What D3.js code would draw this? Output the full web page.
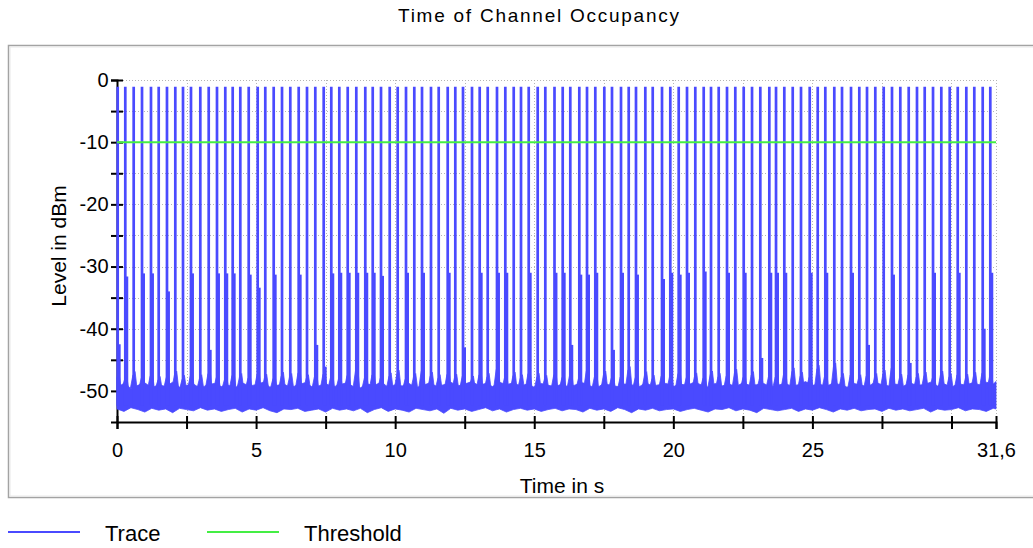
<!DOCTYPE html>
<html>
<head>
<meta charset="utf-8">
<script src="https://cdn.jsdelivr.net/npm/d3@7"></script>
<style>
  html, body { margin: 0; padding: 0; background: #ffffff; }
  svg { display: block; font-family: "Liberation Sans", Arial, sans-serif; }
</style>
</head>
<body>
<svg id="chart" width="1033" height="548"></svg>
<script>
// ---------------- data ----------------
const chartTitle = "Time of Channel Occupancy";
const xAxisTitle = "Time in s";
const yAxisTitle = "Level in dBm";
const seriesNames = ["Trace", "Threshold"];

const xDomain = [0, 31.6];
const yDomain = [-55, 0];
const xTickValues = [0, 2.5, 5, 7.5, 10, 12.5, 15, 17.5, 20, 22.5, 25, 27.5, 30, 31.6];
const xLabelValues = [0, 5, 10, 15, 20, 25, 31.6];
const xLabelTexts = ["0", "5", "10", "15", "20", "25", "31,6"];
const yTickValues = [0, -5, -10, -15, -20, -25, -30, -35, -40, -45, -50];
const yLabelValues = [0, -10, -20, -30, -40, -50];
const yLabelTexts = ["0", "-10", "-20", "-30", "-40", "-50"];

const thresholdLevel = -10;   // dBm
const spikePeak = -1.1;       // dBm, level of every burst
const spikeBase = -52.4;      // dBm, where bursts leave the noise floor

// burst times (s)
const spikeTimes = [
  0.025, 0.298, 0.600, 0.899, 1.222, 1.499, 1.797, 2.096, 2.373, 2.660,
  2.995, 3.297, 3.595, 3.893, 4.159, 4.433, 4.735, 5.058, 5.331, 5.633,
  5.932, 6.230, 6.532, 6.831, 7.129, 7.431, 7.704, 7.992, 8.294, 8.603,
  8.926, 9.193, 9.491, 9.804, 10.091, 10.390, 10.688, 10.965, 11.288, 11.565,
  11.889, 12.162, 12.439, 12.762, 13.039, 13.327, 13.661, 13.960, 14.262, 14.524,
  14.801, 15.124, 15.398, 15.728, 16.023, 16.296, 16.620, 16.897, 17.195, 17.519,
  17.795, 18.119, 18.396, 18.658, 18.993, 19.259, 19.593, 19.891, 20.193, 20.492,
  20.790, 21.092, 21.355, 21.631, 21.930, 22.228, 22.530, 22.829, 23.127, 23.451,
  23.692, 23.990, 24.292, 24.590, 24.903, 25.191, 25.464, 25.787, 26.064, 26.388,
  26.686, 26.963, 27.261, 27.563, 27.861, 28.160, 28.462, 28.760, 29.037, 29.336,
  29.634, 29.936, 30.224, 30.533, 30.820, 31.122, 31.395
];
// level of the secondary (shoulder) burst next to each main burst, null = none
const shoulderLevels = [
  -42.5, -31.6, null, -31.1, -31.1, null, -34.0, null, null, -31.1,
  null, -43.4, -31.1, -31.1, -31.1, null, -31.3, -33.4, null, -31.3,
  null, null, -31.3, null, -42.6, -46.1, -31.1,
  -31.0, -31.0, -31.0, -31.0, -31.0, -31.5, null, null, -31.0, null,
  -31.0, null, null, -31.0, null, -43.0, null, -31.0, null, -31.0,
  -31.0, null, null, -31.0, null, null, -31.0,
  -31.0, -42.6, -31.3, -31.3, -31.0, null, -43.4, -31.0, null, -31.3,
  null, null, -32.0, -31.0, -31.3, -31.0, null, -30.8, null, null,
  -31.0, null, -31.0, null, -44.7, -31.0,
  -31.0, -31.0, null, null, -31.0, null, -31.0, null, null, -31.0,
  null, -42.6, null, null, -31.3, null, -45.5, null, null, -31.0,
  null, null, -31.0, null, null, -40.0, -31.0
];
// small rise of the noise floor around each burst (dBm)
const skirtLevels = [
  -47.8, -48.2, -47.5, -48.0, -47.6, -48.3, -47.9, -47.4, -48.1, -47.7,
  -48.0, -47.3, -47.9, -48.2, -47.6, -47.8, -48.0, -47.5, -47.9, -48.1,
  -47.6, -47.8, -47.2, -48.0, -47.7, -47.4, -47.9, -48.1, -47.6, -46.8,
  -47.9, -47.5, -48.0, -47.7, -47.3, -48.1, -47.8, -46.9, -47.6, -48.0,
  -47.4, -47.9, -47.7, -48.2, -47.5, -47.8, -46.6, -47.9, -47.6, -48.0,
  -47.3, -47.8, -48.1, -47.5, -47.9, -47.6, -48.0, -46.9, -47.7, -47.4,
  -48.0, -47.8, -46.7, -47.9, -47.5, -48.1, -47.6, -47.8, -47.3, -47.9,
  -47.7, -48.0, -47.4, -47.8, -47.6, -47.1, -47.9, -47.5, -48.0, -47.7,
  -47.8, -47.4, -46.9, -47.6, -47.9, -46.5, -47.7, -46.1, -47.8, -47.5,
  -48.0, -47.6, -47.8, -47.3, -46.4, -47.9, -47.5, -47.8, -47.6, -48.0,
  -47.4, -47.8, -47.5, -47.9, -47.6, -47.2, -47.8
];

// noise floor envelope, sampled every 0.25 s (s, dBm)
const floorTimes = [
  0, 0.25, 0.5, 0.75, 1, 1.25, 1.5, 1.75, 2, 2.25, 2.5, 2.75, 3, 3.25, 3.5, 3.75,
  4, 4.25, 4.5, 4.75, 5, 5.25, 5.5, 5.75, 6, 6.25, 6.5, 6.75, 7, 7.25, 7.5, 7.75,
  8, 8.25, 8.5, 8.75, 9, 9.25, 9.5, 9.75, 10, 10.25, 10.5, 10.75, 11, 11.25, 11.5, 11.75,
  12, 12.25, 12.5, 12.75, 13, 13.25, 13.5, 13.75, 14, 14.25, 14.5, 14.75, 15, 15.25, 15.5, 15.75,
  16, 16.25, 16.5, 16.75, 17, 17.25, 17.5, 17.75, 18, 18.25, 18.5, 18.75, 19, 19.25, 19.5, 19.75,
  20, 20.25, 20.5, 20.75, 21, 21.25, 21.5, 21.75, 22, 22.25, 22.5, 22.75, 23, 23.25, 23.5, 23.75,
  24, 24.25, 24.5, 24.75, 25, 25.25, 25.5, 25.75, 26, 26.25, 26.5, 26.75, 27, 27.25, 27.5, 27.75,
  28, 28.25, 28.5, 28.75, 29, 29.25, 29.5, 29.75, 30, 30.25, 30.5, 30.75, 31, 31.25, 31.5, 31.6
];
const floorTop = [
  -49.4, -48.8, -49.6, -49.1, -48.7, -49.5, -49.0, -49.3, -48.6, -49.4, -49.1, -48.9, -49.6, -49.0, -48.8, -49.3,
  -49.1, -49.5, -48.7, -49.2, -49.0, -48.6, -49.4, -49.1, -48.9, -49.5, -49.0, -48.7, -49.3, -49.2, -48.8, -49.4,
  -49.0, -48.7, -49.3, -49.5, -48.9, -49.1, -48.6, -49.4, -49.0, -49.2, -48.8, -49.5, -49.1, -48.7, -49.3, -49.0,
  -48.6, -49.2, -48.9, -48.5, -49.1, -48.8, -49.3, -48.6, -49.0, -48.7, -49.2, -48.9, -49.4, -48.8, -49.1, -49.3,
  -48.9, -49.4, -49.0, -48.7, -49.2, -49.5, -48.8, -49.1, -49.3, -48.9, -49.0, -49.4, -48.7, -49.2, -49.0, -48.8,
  -49.3, -48.9, -49.1, -48.6, -49.0, -49.4, -48.8, -49.2, -48.9, -49.3, -48.7, -49.1, -49.0, -48.8, -49.4, -49.1,
  -48.8, -49.2, -49.0, -48.5, -49.1, -48.9, -49.3, -48.7, -49.0, -49.4, -48.8, -49.1, -49.3, -48.6, -49.0, -49.2,
  -48.9, -49.3, -48.7, -49.1, -49.0, -48.6, -49.2, -48.9, -49.4, -48.8, -49.1, -48.7, -49.0, -48.6, -48.9, -48.5
];
const floorBottom = [
  -52.9, -53.3, -52.7, -53.0, -53.4, -52.8, -53.1, -52.9, -53.5, -52.8, -53.0, -53.2, -52.7, -53.1, -52.9, -53.3,
  -53.0, -52.8, -53.4, -52.9, -53.1, -52.7, -53.2, -53.5, -52.9, -53.0, -52.8, -53.3, -53.1, -52.9, -53.4, -52.8,
  -53.1, -52.9, -53.2, -52.8, -53.5, -53.0, -52.7, -53.3, -52.9, -53.1, -53.4, -52.8, -53.0, -53.2, -52.9, -53.6,
  -52.8, -53.1, -52.9, -53.3, -53.0, -52.7, -53.2, -52.9, -53.4, -53.0, -52.8, -53.1, -52.9, -53.3, -53.0, -52.8,
  -53.2, -52.9, -53.0, -53.4, -52.8, -53.1, -52.9, -53.3, -52.7, -53.0, -53.5, -52.9, -53.1, -52.8, -53.2, -53.0,
  -52.9, -53.3, -53.0, -52.8, -53.1, -53.4, -52.9, -53.0, -52.7, -53.2, -52.9, -53.1, -53.5, -52.8, -53.0, -53.2,
  -53.0, -52.8, -53.3, -52.9, -53.1, -52.7, -53.0, -53.4, -52.9, -53.1, -52.8, -53.2, -53.0, -52.9, -53.3, -52.8,
  -53.1, -52.9, -53.2, -53.0, -52.8, -53.4, -52.9, -53.1, -53.0, -52.7, -53.2, -52.9, -53.0, -53.3, -52.8, -52.9
];

// ---------------- drawing ----------------
const TRACE = "#4a4aff";
const THRESH = "#44ee44";
const svg = d3.select("#chart");

const x = d3.scaleLinear().domain(xDomain).range([117, 996]);
const y = d3.scaleLinear().domain(yDomain).range([422, 80]);

// panel frame
svg.append("rect").attr("x", 8.5).attr("y", 45.5).attr("width", 1040).attr("height", 452)
  .attr("fill", "#ffffff").attr("stroke", "#a3a3a3").attr("stroke-width", 1.5);
svg.append("rect").attr("x", 10).attr("y", 47).attr("width", 1040).attr("height", 449)
  .attr("fill", "none").attr("stroke", "#e8e8e8").attr("stroke-width", 1);

// title
svg.append("text").attr("x", 538.5).attr("y", 22).attr("text-anchor", "middle")
  .attr("font-size", 19).attr("textLength", 281).attr("lengthAdjust", "spacing")
  .attr("fill", "#000").text(chartTitle);

// grid
const grid = svg.append("g").attr("stroke", "#b5b5b5").attr("stroke-width", 1)
  .attr("stroke-dasharray", "1,2");
grid.selectAll("line.h").data(yTickValues).join("line").attr("class", "h")
  .attr("x1", x(xDomain[0])).attr("x2", x(xDomain[1]))
  .attr("y1", d => Math.round(y(d)) + 0.5).attr("y2", d => Math.round(y(d)) + 0.5);
grid.selectAll("line.v").data(xTickValues.slice(1)).join("line").attr("class", "v")
  .attr("y1", y(yDomain[1])).attr("y2", y(yDomain[0]))
  .attr("x1", d => Math.round(x(d)) + 0.5).attr("x2", d => Math.round(x(d)) + 0.5);

// y axis
const yAxis = d3.axisLeft(y).tickValues(yTickValues).tickSize(6).tickPadding(4)
  .tickFormat(d => { const i = yLabelValues.indexOf(d); return i >= 0 ? yLabelTexts[i] : ""; });
const gy = svg.append("g").attr("transform", "translate(117,0)").call(yAxis);
gy.select(".domain").attr("stroke", "#000").attr("stroke-width", 2);
gy.selectAll(".tick line").attr("x1", 6).attr("stroke", "#000").attr("stroke-width", 2);
gy.selectAll(".tick text").attr("font-size", 20).attr("font-family", "Liberation Sans, Arial, sans-serif")
  .attr("fill", "#000").attr("x", -8.5);

// noise floor
const area = d3.area().x((d, i) => x(floorTimes[i]))
  .y0((d, i) => y(floorBottom[i])).y1((d, i) => y(floorTop[i]));
svg.append("path").attr("d", area(floorTimes)).attr("fill", TRACE)
  .attr("stroke", TRACE).attr("stroke-width", 0.8).attr("stroke-linejoin", "miter");

// skirts of the bursts
const skirtHalf = 0.12;
const skirtFoot = -49.6;
const tri = d3.line().x(d => x(d[0])).y(d => y(d[1]));
svg.append("g").selectAll("path").data(spikeTimes.map((t, i) => [t, skirtLevels[i]]))
  .join("path")
  .attr("d", d => tri([[Math.max(xDomain[0], d[0] - skirtHalf), skirtFoot], [d[0] - 0.03, d[1]], [d[0] + 0.05, d[1] + 0.6], [Math.min(xDomain[1], d[0] + skirtHalf), skirtFoot]]))
  .attr("fill", TRACE).attr("stroke", TRACE).attr("stroke-width", 0.8);

// shoulders
const vline = d3.line().x(d => x(d[0])).y(d => y(d[1]));
const shoulderOffset = 0.06;
svg.append("g").selectAll("path").data(spikeTimes.map((t, i) => [t, shoulderLevels[i]]).filter(d => d[1] !== null))
  .join("path").attr("d", d => vline([[d[0] + shoulderOffset, spikeBase], [d[0] + shoulderOffset, d[1]]]))
  .attr("stroke", TRACE).attr("stroke-width", 2.6).attr("fill", "none");

// main bursts
svg.append("g").selectAll("path").data(spikeTimes).join("path")
  .attr("d", t => vline([[t, spikeBase], [t, spikePeak]]))
  .attr("stroke", TRACE).attr("stroke-width", 2.7).attr("fill", "none");

// threshold
svg.append("path").attr("d", vline([[xDomain[0], thresholdLevel], [xDomain[1], thresholdLevel]]))
  .attr("stroke", THRESH).attr("stroke-width", 2).attr("fill", "none");

// x axis
const xAxis = d3.axisBottom(x).tickValues(xTickValues).tickSize(7).tickPadding(14)
  .tickFormat(d => { const i = xLabelValues.indexOf(d); return i >= 0 ? xLabelTexts[i] : ""; });
const gx = svg.append("g").attr("transform", "translate(0,422)").call(xAxis);
gx.select(".domain").attr("stroke", "#000").attr("stroke-width", 2);
gx.selectAll(".tick line").attr("y1", -6).attr("stroke", "#000").attr("stroke-width", 2);
gx.selectAll(".tick text").attr("font-size", 20).attr("font-family", "Liberation Sans, Arial, sans-serif")
  .attr("fill", "#000");

// axis titles
svg.append("text").attr("x", 562).attr("y", 493).attr("text-anchor", "middle")
  .attr("font-size", 21).attr("fill", "#000").text(xAxisTitle);
svg.append("text").attr("transform", "translate(66,246) rotate(-90)").attr("text-anchor", "middle")
  .attr("font-size", 21).attr("fill", "#000").text(yAxisTitle);

// legend
const legend = svg.append("g");
const legendItems = [
  { name: seriesNames[0], color: TRACE, x0: 8, x1: 80, tx: 105 },
  { name: seriesNames[1], color: THRESH, x0: 207, x1: 279, tx: 304 }
];
legendItems.forEach(it => {
  legend.append("line").attr("x1", it.x0).attr("x2", it.x1).attr("y1", 532).attr("y2", 532)
    .attr("stroke", it.color).attr("stroke-width", 2);
  legend.append("text").attr("x", it.tx).attr("y", 541).attr("font-size", 22).attr("fill", "#000").text(it.name);
});
</script>
</body>
</html>
